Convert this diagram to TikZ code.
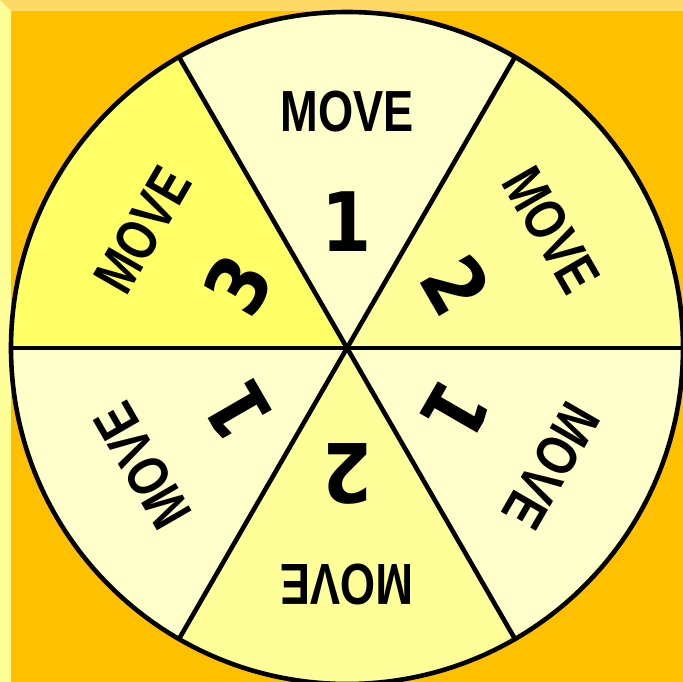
\documentclass[tikz,border=0pt]{standalone}
\usepackage{fontspec}
\setmainfont{Liberation Sans}
\newfontfamily\digitfont{DejaVu Sans}
\definecolor{bgorange}{HTML}{FFC000}
\definecolor{topstrip}{HTML}{FFD966}
\definecolor{leftstrip}{HTML}{FFFF99}
\definecolor{paleY}{HTML}{FFFFCC}
\definecolor{midY}{HTML}{FFFF99}
\definecolor{deepY}{HTML}{FFFF66}
\tikzset{
  movetxt/.style={inner sep=0pt, font=\fontsize{58}{58}\selectfont\bfseries},
  numtxt/.style={inner sep=0pt, font=\digitfont\fontsize{82}{82}\selectfont\bfseries},
  rim/.style={line width=4.6pt, draw=black}
}
\newcommand{\mv}{\scalebox{0.78}[1]{MOVE}}
\newcommand{\dg}[1]{\scalebox{0.88}[1]{#1}}
\newcommand{\sector}[2]{\fill[#2] (0,0) -- (#1:336) arc[start angle=#1, end angle=#1+60, radius=336] -- cycle;}
\begin{document}
\begin{tikzpicture}[x=1pt,y=1pt]
\useasboundingbox (-347,-334) rectangle (336,348);
\fill[bgorange] (-347,-334) rectangle (336,348);
\fill[topstrip] (-347,348) -- (336,348) -- (336,337) -- (-336,337) -- cycle;
\fill[leftstrip] (-347,348) -- (-336,337) -- (-336,-334) -- (-347,-334) -- cycle;
\sector{0}{midY}
\sector{60}{paleY}
\sector{120}{deepY}
\sector{180}{paleY}
\sector{240}{midY}
\sector{300}{paleY}
\coordinate (hub) at (0,0);
\coordinate (e0) at (0:336);
\coordinate (e60) at (60:336);
\coordinate (e120) at (120:336);
\coordinate (e180) at (180:336);
\coordinate (e240) at (240:336);
\coordinate (e300) at (300:336);
\draw[rim] (e0) -- (e180);
\draw[rim] (e60) -- (e240);
\draw[rim] (e120) -- (e300);
\draw[rim] (hub) circle (336);
% labels
\node[movetxt] (m1) at (90:236) {\mv};
\node[numtxt] (n1) at (90:126) {\dg{1}};
\node[movetxt, rotate=-60] (m2) at (30:236) {\mv};
\node[numtxt, rotate=-60] (n2) at (30:126) {\dg{2}};
\node[movetxt, rotate=60] (m3) at (150:236) {\mv};
\node[numtxt, rotate=60] (n3) at (150:126) {\dg{3}};
\node[movetxt, rotate=120] (m4) at (210:236) {\mv};
\node[numtxt, rotate=120] (n4) at (210:126) {\dg{1}};
\node[movetxt, rotate=180] (m5) at (270:236) {\mv};
\node[numtxt, rotate=180] (n5) at (270:126) {\dg{2}};
\node[movetxt, rotate=-120] (m6) at (330:236) {\mv};
\node[numtxt, rotate=-120] (n6) at (330:126) {\dg{1}};
\end{tikzpicture}
\end{document}
